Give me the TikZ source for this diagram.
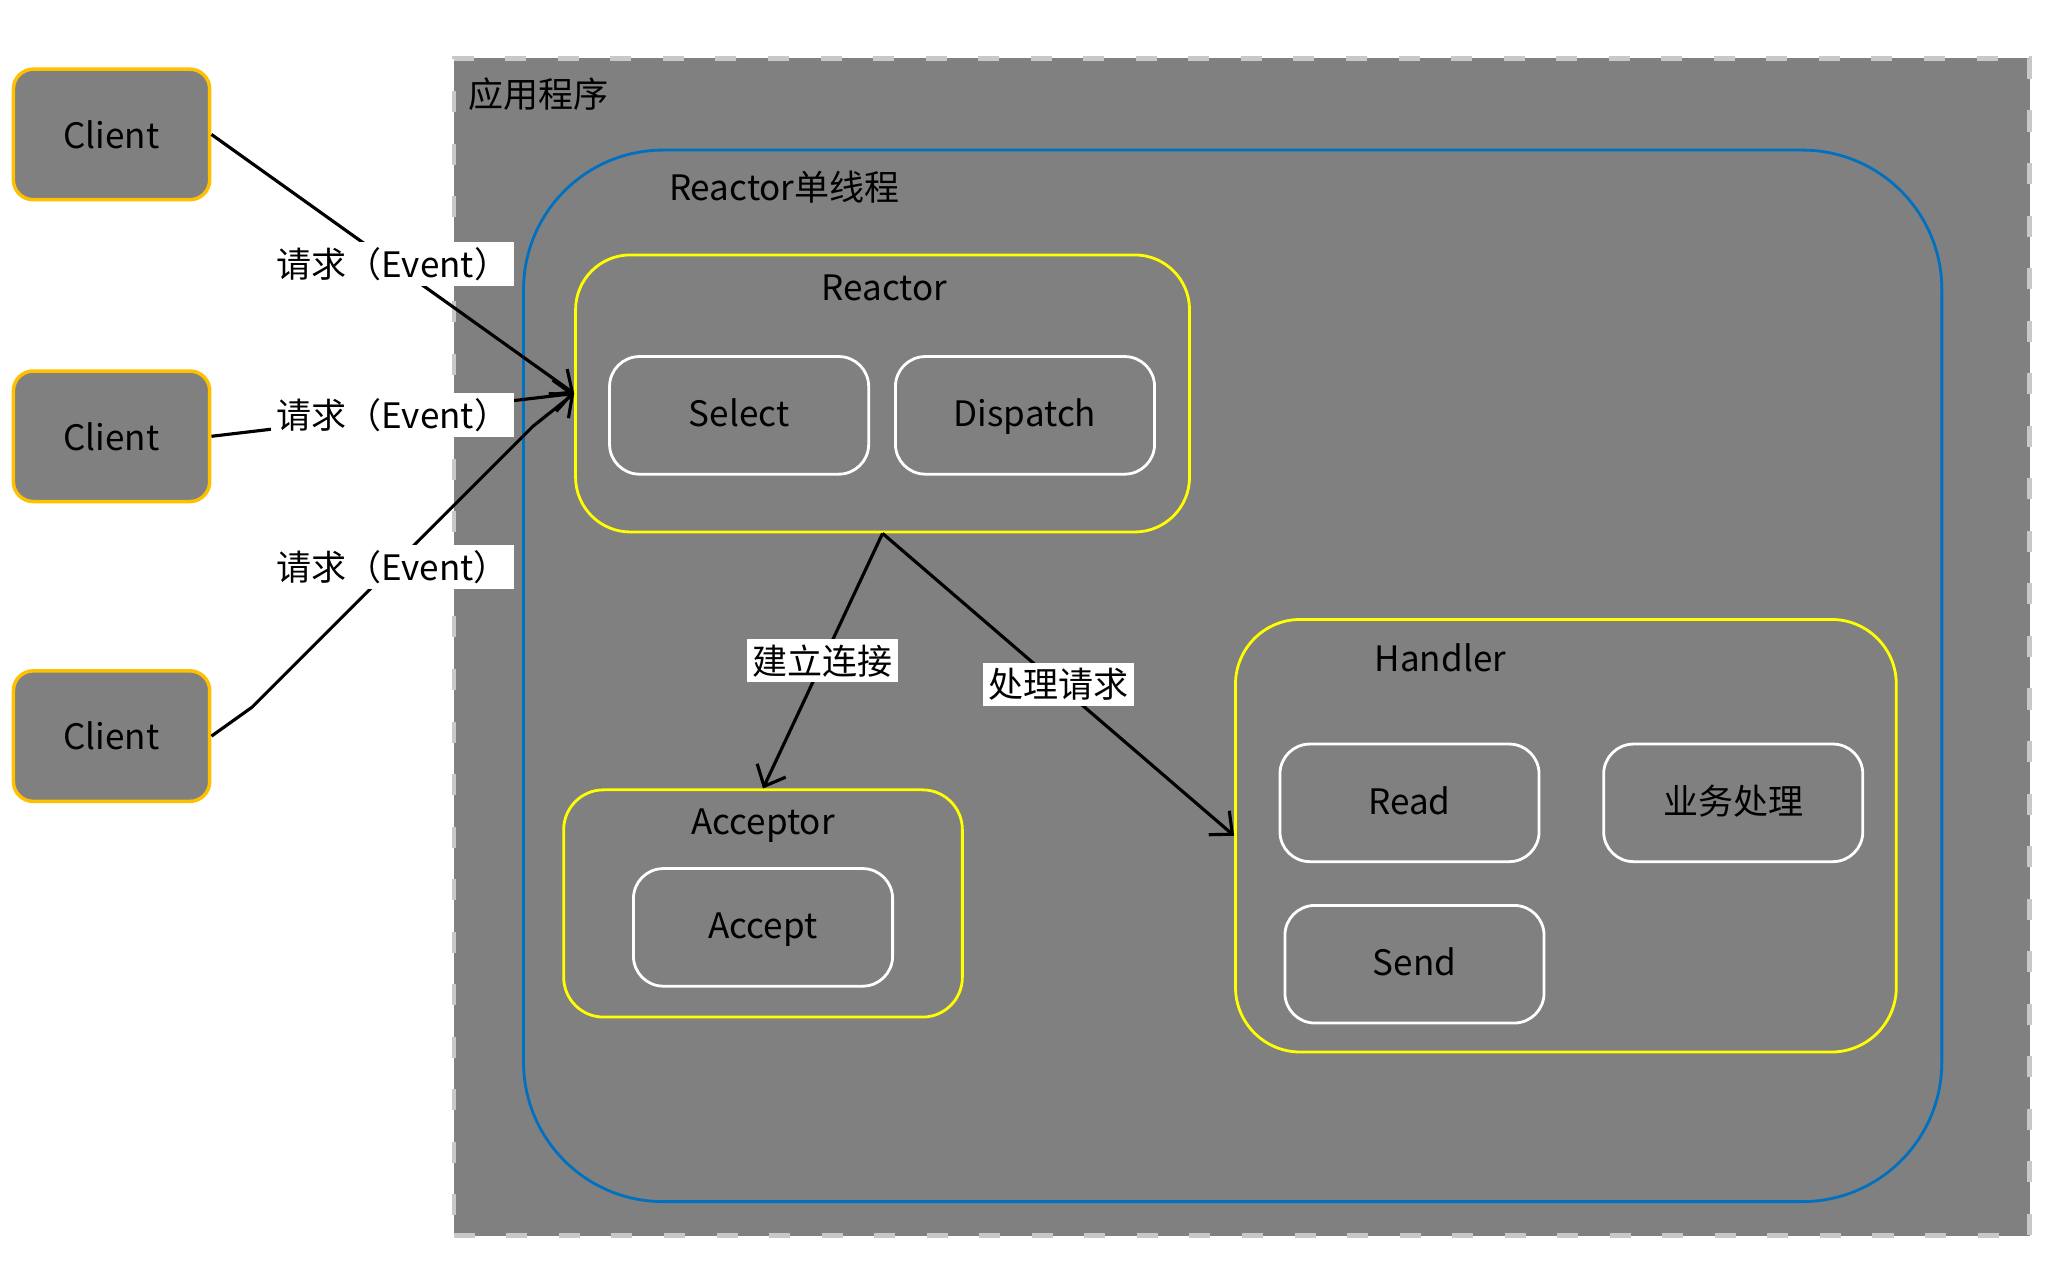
\documentclass[tikz,border=0pt]{standalone}
\usepackage{fontspec}
\setmainfont{Noto Sans CJK SC}
\usepackage{xcolor}
\usepackage{tikz}
\usetikzlibrary{arrows.meta}
\definecolor{appgray}{HTML}{808080}
\definecolor{dashgray}{HTML}{C8C8C8}
\definecolor{clientgold}{HTML}{FFC000}
\definecolor{partyellow}{HTML}{FFFF00}
\definecolor{threadblue}{HTML}{0070C0}

\begin{document}
\begin{tikzpicture}[x=0.01cm,y=-0.01cm,
    every node/.style={font=\fontsize{10pt}{12pt}\selectfont},
    client/.style={draw=clientgold,fill=appgray,line width=1pt,rounded corners=0.2cm,
        minimum width=1.97cm,minimum height=1.31cm},
    part/.style={draw=white,line width=0.8pt,rounded corners=0.3cm,
        minimum width=2.6cm,minimum height=1.18cm,text height=1.6ex,text depth=.4ex},
    group/.style={draw=partyellow,line width=0.8pt},
    lbl/.style={fill=white,inner sep=1.5pt},
    req/.style={line width=0.9pt,-{Straight Barb[length=5pt,width=9pt]}}]
          \useasboundingbox (0,0) rectangle (2060,1274);
          % application frame and single reactor thread
          \node[fill=appgray,draw=dashgray,line width=1.2pt,dash pattern=on 6pt off 9pt,
              minimum width=15.81cm,minimum height=11.81cm] (app) at (1246.5,649.5) {};
          \node[draw=threadblue,line width=0.8pt,rounded corners=1.4cm,
              minimum width=14.23cm,minimum height=10.55cm] (thread) at (1237.5,678.5) {};
          \node[anchor=west,inner sep=0pt] (apptitle) at (470,95) {应用程序};
          \node[anchor=west,inner sep=0pt] (threadtitle) at (671,188) {Reactor单线程};

          \node[group,rounded corners=0.55cm,minimum width=6.16cm,minimum height=2.78cm] (reactor) at (886,395) {};
          \node[group,rounded corners=0.4cm,minimum width=4cm,minimum height=2.28cm] (acceptor) at (766,907) {};
          \node[group,rounded corners=0.65cm,minimum width=6.63cm,minimum height=4.34cm] (handler) at (1572,839) {};
          \node (reactortitle) at (888,289) {Reactor};
          \node (acceptortitle) at (766,829) {Acceptor};
          \node (handlertitle) at (1446,660) {Handler};

          \node[part] (select) at (742,417) {Select};
          \node[part] (dispatch) at (1029,417) {Dispatch};
          \node[part] (accept) at (766,931) {Accept};
          \node[part] (read) at (1415,806) {Read};
          \node[part] (biz) at (1740,806) {业务处理};
          \node[part] (send) at (1420,968) {Send};

          \node[client] (c1) at (112,135) {Client};
          \node[client] (c2) at (112,438) {Client};
          \node[client] (c3) at (112,739) {Client};

          % requests into the reactor
          \coordinate (b1) at (253,710);
          \coordinate (b2) at (535,428);
          \draw[req] (c1.east) -- node[lbl] {请求（Event）} (reactor.west);
          \draw[req] (c2.east) -- node[lbl] {请求（Event）} (reactor.west);
          \draw[req] (c3.east) -- (b1) -- node[lbl] {请求（Event）} (b2) -- (reactor.west);

          \draw[req] (reactor.south) -- node[lbl] {建立连接} (acceptor.north);
          \draw[req] (reactor.south) -- node[lbl] {处理请求} (handler.west);
        \end{tikzpicture}
\end{document}
